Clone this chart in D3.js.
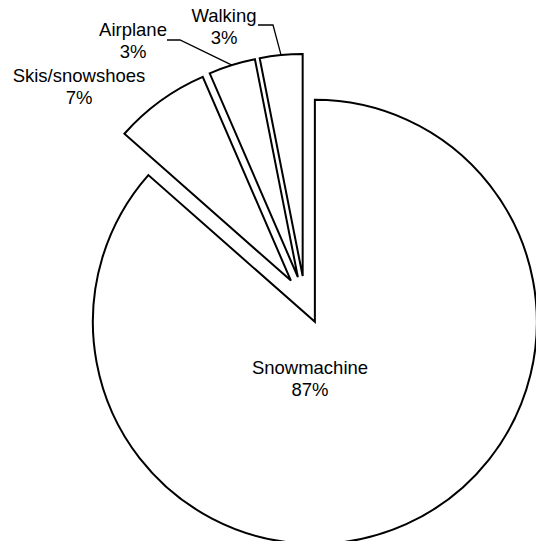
<!DOCTYPE html>
<html>
<head>
<meta charset="utf-8">
<script src="https://cdn.jsdelivr.net/npm/d3@7"></script>
<style>
  html, body { margin: 0; padding: 0; background: #fff; }
  svg { display: block; }
  text { font-family: "Liberation Sans", Arial, sans-serif; fill: #000; }
</style>
</head>
<body>
<svg id="chart" width="536" height="541"></svg>
<script>
// ---- data ----
const categories = ["Snowmachine", "Skis/snowshoes", "Airplane", "Walking"];
const shares = [86.5, 7.0, 3.4, 3.1];

// ---- layout ----
const W = 536, H = 541;
const cx = 305, cy = 300;
const radius = 222;
const explode = 24;

// label anchors (center x, baseline of first line) and leader-line start points
const labelLayout = {
  "Snowmachine":    { x: 310, y: 374, leader: null },
  "Skis/snowshoes": { x: 79,  y: 82,  leader: null },
  "Airplane":       { x: 133, y: 36,  leader: [[167, 40], [180, 40]] },
  "Walking":        { x: 224, y: 22,  leader: [[258, 25], [273, 25]] }
};

const data = categories.map((c, i) => ({ name: c, value: shares[i] }));

const svg = d3.select("#chart");
const g = svg.append("g").attr("transform", `translate(${cx},${cy})`);

const pie = d3.pie().sort(null).value(d => d.value).startAngle(0).endAngle(2 * Math.PI);
const arcs = pie(data);
const arc = d3.arc().innerRadius(0).outerRadius(radius);

function offsetOf(a) {
  const mid = (a.startAngle + a.endAngle) / 2;
  return [explode * Math.sin(mid), -explode * Math.cos(mid)];
}

g.selectAll("path.slice")
  .data(arcs)
  .join("path")
  .attr("class", "slice")
  .attr("d", arc)
  .attr("transform", d => { const o = offsetOf(d); return `translate(${o[0]},${o[1]})`; })
  .attr("fill", "#fff")
  .attr("stroke", "#000")
  .attr("stroke-width", 2)
  .attr("stroke-linejoin", "miter");

// leader lines
arcs.forEach(a => {
  const L = labelLayout[a.data.name];
  if (!L.leader) return;
  const o = offsetOf(a);
  const mid = (a.startAngle + a.endAngle) / 2;
  const end = [cx + o[0] + radius * Math.sin(mid), cy + o[1] - radius * Math.cos(mid)];
  const pts = L.leader.concat([end]);
  svg.append("path")
    .attr("d", d3.line()(pts))
    .attr("fill", "none")
    .attr("stroke", "#000")
    .attr("stroke-width", 1.3);
});

// labels
const fmt = v => Math.round(v) + "%";
arcs.forEach(a => {
  const L = labelLayout[a.data.name];
  const t = svg.append("text")
    .attr("text-anchor", "middle")
    .attr("font-size", "18.5px");
  t.append("tspan").attr("x", L.x).attr("y", L.y).text(a.data.name);
  t.append("tspan").attr("x", L.x).attr("y", L.y + 22).text(fmt(a.data.value));
});
</script>
</body>
</html>
